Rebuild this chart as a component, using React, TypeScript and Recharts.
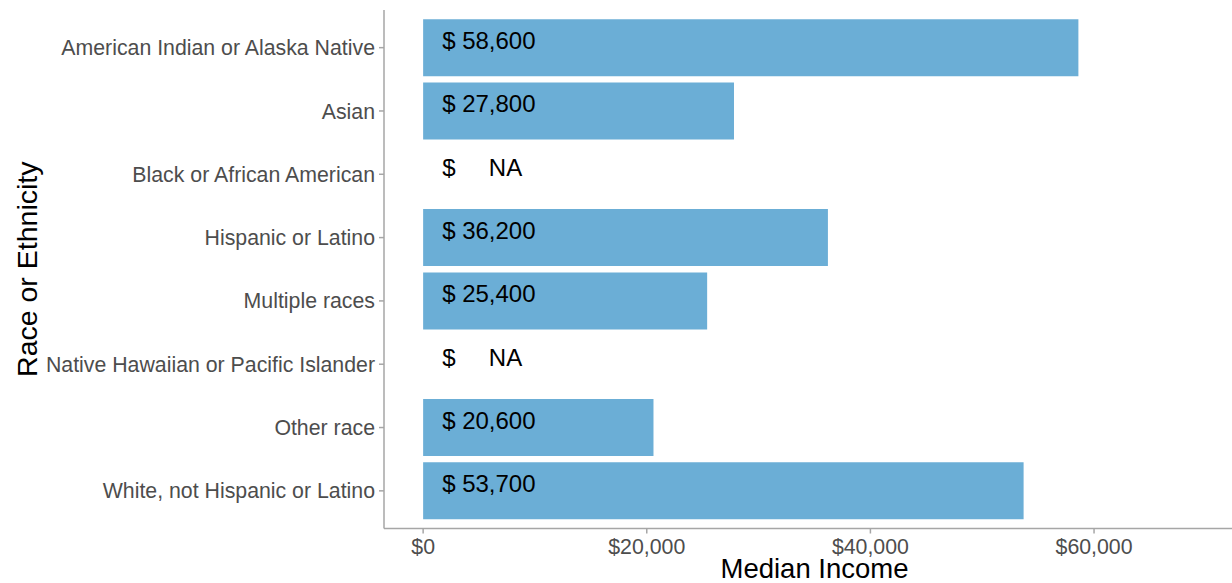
import React from "react";
import { BarChart, Bar, XAxis, YAxis, Label, ReferenceDot } from "recharts";

const categories = [
  "American Indian or Alaska Native",
  "Asian",
  "Black or African American",
  "Hispanic or Latino",
  "Multiple races",
  "Native Hawaiian or Pacific Islander",
  "Other race",
  "White, not Hispanic or Latino",
];
const incomes: (number | null)[] = [58600, 27800, null, 36200, 25400, null, 20600, 53700];
const xTicks = [0, 20000, 40000, 60000];
const xDomain = [-3500, 73500];

const data = categories.map((c, i) => ({ group: c, income: incomes[i] }));

const FONT = "'Liberation Sans', Arial, Helvetica, sans-serif";
const AXIS_GREY = "#a6a6a6";
const TEXT_GREY = "#4d4d4d";
const BAR_FILL = "#6baed6";

const fmtTick = (v: number) => "$" + v.toLocaleString("en-US");
const fmtLabel = (v: number | null | undefined) =>
  v == null ? "$\u00a0\u00a0\u00a0\u00a0\u00a0NA" : "$ " + v.toLocaleString("en-US");

function ValueLabel(props: any) {
  const vb = props.viewBox || {};
  const px = Number(vb.x) + Number(vb.width || 0) / 2;
  const py = Number(vb.y) + Number(vb.height || 0) / 2;
  if (!isFinite(px) || !isFinite(py)) return null;
  return (
    <text
      x={px + 19}
      y={py + 1.5}
      fontSize={24}
      fontFamily={FONT}
      fill="#000000"
      style={{ whiteSpace: "pre" }}
    >
      {fmtLabel(props.amount)}
    </text>
  );
}

function YTitle(props: any) {
  const vb = props.viewBox || {};
  const cx = 27;
  const cy = vb.y + vb.height / 2;
  return (
    <text
      x={cx}
      y={cy}
      transform={`rotate(-90, ${cx}, ${cy})`}
      textAnchor="middle"
      dominantBaseline="central"
      fontSize={28.5}
      fontFamily={FONT}
      fill="#000000"
    >
      Race or Ethnicity
    </text>
  );
}

export default function App() {
  return (
    <div
      style={{
        position: "absolute",
        left: 0,
        top: 0,
        width: 1232,
        height: 583,
        overflow: "hidden",
        background: "#ffffff",
      }}
    >
      <BarChart
        width={1262}
        height={583}
        data={data}
        layout="vertical"
        margin={{ top: 10, right: 17, bottom: 0, left: 0 }}
        barCategoryGap="5%"
      >
        <XAxis
          xAxisId="top"
          orientation="top"
          type="number"
          domain={xDomain}
          height={0}
          tick={false}
          tickLine={false}
          axisLine={{ stroke: AXIS_GREY, strokeWidth: 1.5 }}
          allowDataOverflow
        />
        <XAxis
          type="number"
          domain={xDomain}
          ticks={xTicks}
          allowDataOverflow
          height={54.5}
          tickFormatter={fmtTick}
          tickSize={5}
          tickMargin={5}
          tick={{ fontSize: 21.3, fontFamily: FONT, fill: TEXT_GREY }}
          tickLine={{ stroke: AXIS_GREY, strokeWidth: 1.5 }}
          axisLine={{ stroke: AXIS_GREY, strokeWidth: 1.5 }}
        >
          <Label
            value="Median Income"
            position="insideBottom"
            offset={5}
            fontSize={27.5}
            fontFamily={FONT}
            fill="#000000"
          />
        </XAxis>
        <YAxis
          type="category"
          dataKey="group"
          width={384}
          padding={{ top: 6, bottom: 6 }}
          tickSize={5}
          tickMargin={4}
          interval={0}
          tick={{ fontSize: 21.3, fontFamily: FONT, fill: TEXT_GREY }}
          tickLine={{ stroke: AXIS_GREY, strokeWidth: 1.5 }}
          axisLine={{ stroke: AXIS_GREY, strokeWidth: 1.5 }}
        >
          <Label content={<YTitle />} />
        </YAxis>
        <Bar dataKey="income" fill={BAR_FILL} isAnimationActive={false} />
        {categories.map((c, i) => (
          <ReferenceDot
            key={c}
            x={0}
            y={c}
            r={1}
            fill="none"
            stroke="none"
            ifOverflow="visible"
            label={<ValueLabel amount={incomes[i]} />}
          />
        ))}
      </BarChart>
    </div>
  );
}
